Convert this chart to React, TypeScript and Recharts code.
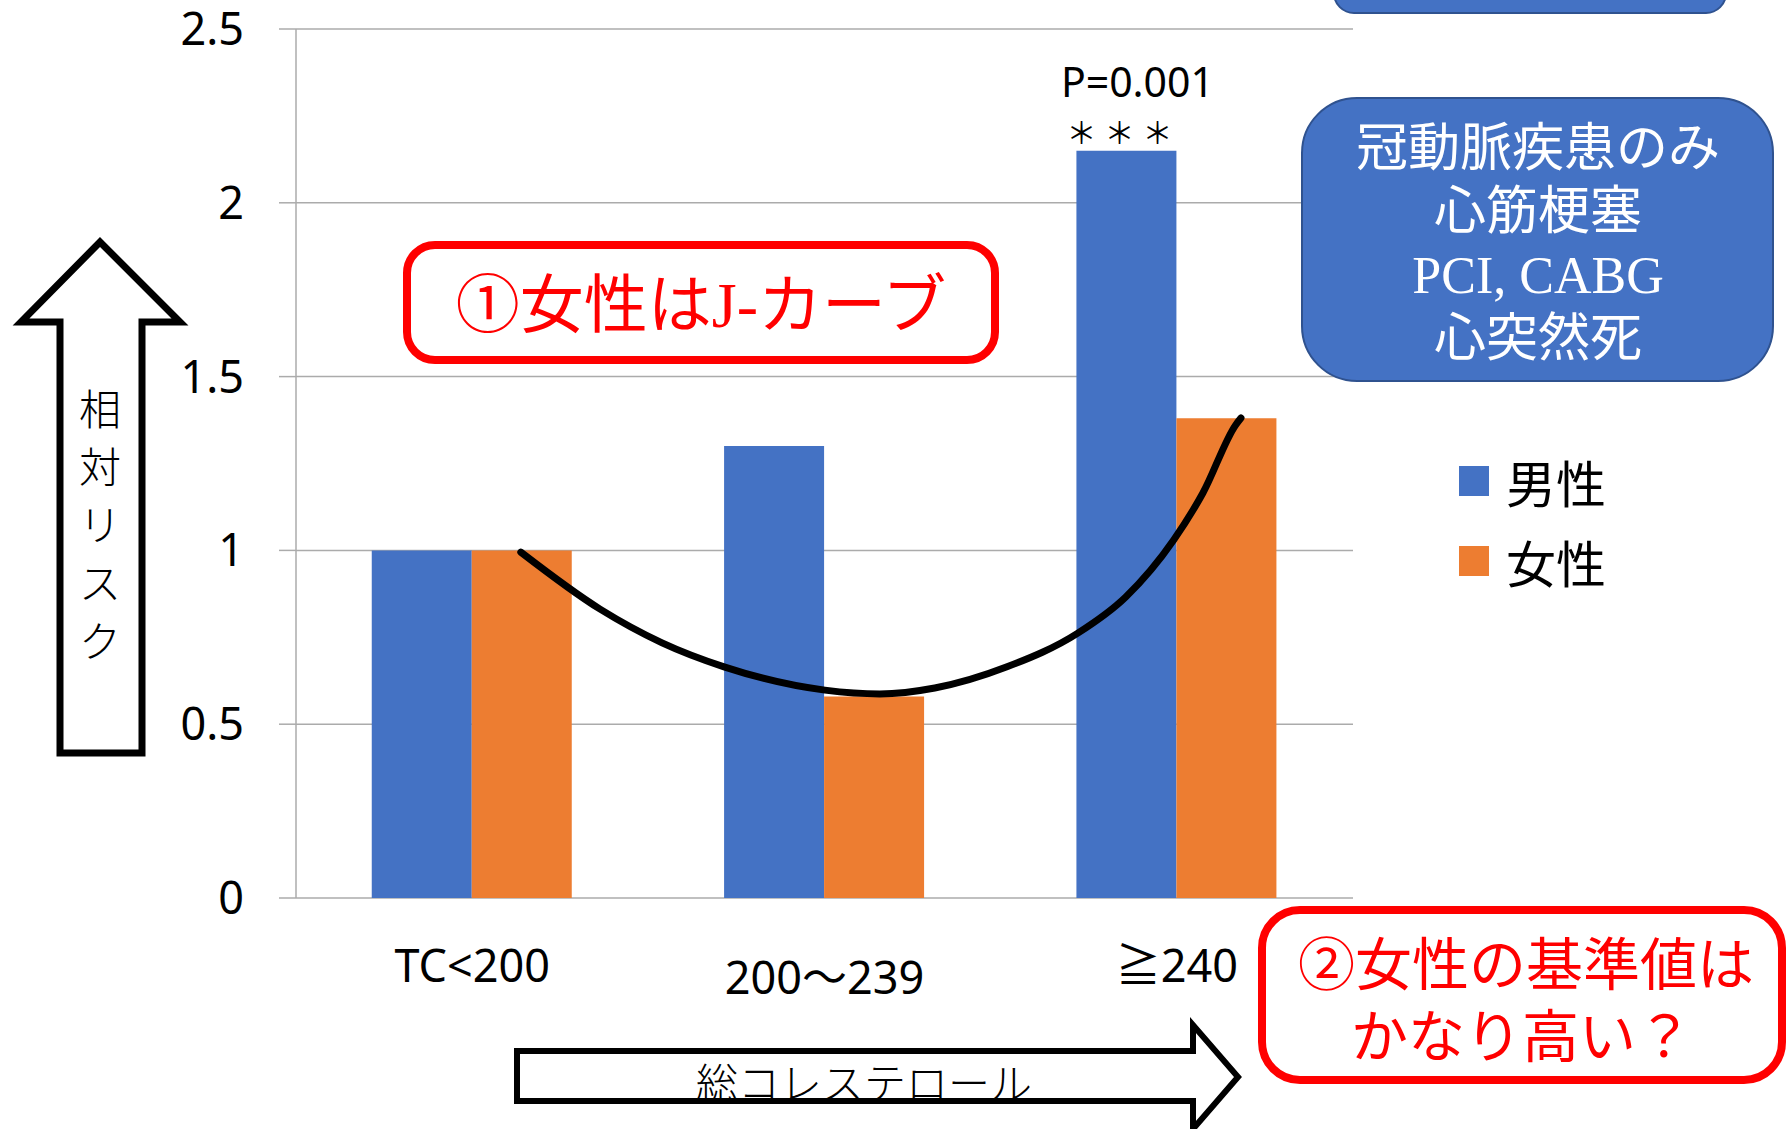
import React from 'react'
import { ComposedChart, Bar, Line, XAxis, YAxis, CartesianGrid, Legend, LabelList } from 'recharts'

const categories = ['TC<200', '200〜239', '≧240']
const maleRisk = [1, 1.3, 2.15]
const femaleRisk = [1, 0.58, 1.38]
const pNotes = ['', '', 'P=0.001']
const sigMarks = ['', '', '＊＊＊']
const yTicks = [0, 0.5, 1, 1.5, 2, 2.5]
const bandEdges = [0, 1, 2, 3]
const legendKeys = ['male', 'female']

// hand drawn J-curve, x in category units (0..3), y in relative risk
const curveX = [0.638, 0.863, 1.039, 1.215, 1.501, 1.657, 1.813, 2.018, 2.219, 2.355, 2.491, 2.574, 2.667, 2.682]
const curveY = [0.995, 0.831, 0.734, 0.665, 0.598, 0.587, 0.604, 0.665, 0.762, 0.866, 1.03, 1.165, 1.361, 1.381]

const boxLines = ['冠動脈疾患のみ', '心筋梗塞', 'PCI, CABG', '心突然死']
const yTitle = ['相', '対', 'リ', 'ス', 'ク']

const rows = categories.map((cat, i) => ({
  cat,
  male: maleRisk[i],
  female: femaleRisk[i],
  note: pNotes[i],
  stars: sigMarks[i]
}))
const curve = curveX.map((x, i) => ({ x, y: curveY[i] }))

const BLUE = '#4472C4'
const ORANGE = '#ED7D31'
const GRID = '#ABABAB'
const RED = '#FF0000'
const sans = "'Noto Sans', 'Noto Sans CJK JP', sans-serif"
const serif = "'Liberation Serif', 'Noto Sans CJK JP', serif"
const cjk = "'Noto Sans CJK JP', sans-serif"

function CatTick({ x, y, payload }: any) {
  const v = String(payload.value)
  // the label with the wave dash sits a bit lower in the original
  const drop = /[\u3000-\u30ff]/.test(v) ? 12 : 0
  return (
    <text x={x} y={y + 84 + drop} textAnchor="middle" fontSize={45} fontFamily={sans} fill="#000">
      {v}
    </text>
  )
}

function NoteLabel(props: any) {
  if (!props.value) return null
  const vb = props.viewBox || props
  return (
    <text x={vb.x + vb.width / 2 + 11} y={vb.y - 70} textAnchor="middle" dominantBaseline="central"
      fontSize={41} fontFamily={sans} fill="#000">
      {props.value}
    </text>
  )
}

function StarLabel(props: any) {
  if (!props.value) return null
  const vb = props.viewBox || props
  return (
    <text x={vb.x + vb.width / 2 - 3} y={vb.y - 20} textAnchor="middle" dominantBaseline="central"
      fontSize={30} letterSpacing={8} fontFamily={cjk} fill="#000">
      {props.value}
    </text>
  )
}

function LegendBox({ payload }: any) {
  const items = legendKeys
    .map((k) => (payload || []).find((p: any) => p.dataKey === k))
    .filter(Boolean)
  return (
    <div>
      {items.map((p: any) => (
        <div key={p.value} style={{ display: 'flex', alignItems: 'center', height: 80 }}>
          <span style={{ width: 30, height: 30, background: p.color, marginRight: 17, flexShrink: 0 }} />
          <span style={{ fontSize: 50, fontFamily: cjk, color: '#000', lineHeight: 1 }}>{p.value}</span>
        </div>
      ))}
    </div>
  )
}

function Overlay() {
  return (
    <svg width={1786} height={1129} style={{ position: 'absolute', left: 0, top: 0, pointerEvents: 'none' }}>
      {/* box cut off at the top */}
      <rect x={1334} y={-60} width={392} height={73} rx={20} fill={BLUE} stroke="#2F528F" strokeWidth={2} />
      {/* study scope box */}
      <rect x={1302} y={98} width={471} height={283} rx={55} fill={BLUE} stroke="#2F528F" strokeWidth={2} />
      {boxLines.map((t, i) => (
        <text key={t} x={1538} y={148 + i * 63.5} textAnchor="middle" dominantBaseline="central"
          fontSize={52} fontFamily={serif} fill="#fff">{t}</text>
      ))}

      {/* red note 1 */}
      <rect x={407} y={245} width={588} height={115} rx={28} fill="#fff" stroke={RED} strokeWidth={8} />
      <text x={701} y={305} textAnchor="middle" dominantBaseline="central" fontSize={64} fontFamily={serif} fill={RED}>
        ①女性はJ-カーブ
      </text>

      {/* red note 2 */}
      <rect x={1262} y={910} width={520} height={170} rx={38} fill="#fff" stroke={RED} strokeWidth={8} />
      <text x={1526} y={965} textAnchor="middle" dominantBaseline="central" fontSize={57} fontFamily={serif} fill={RED}>
        ②女性の基準値は
      </text>
      <text x={1522} y={1037} textAnchor="middle" dominantBaseline="central" fontSize={57} fontFamily={serif} fill={RED}>
        かなり高い？
      </text>

      {/* y arrow */}
      <polygon points="100,242 180,322 142,322 142,753 60,753 60,322 21,322" fill="#fff" stroke="#000" strokeWidth={7} />
      {yTitle.map((c, i) => (
        <text key={c + i} x={100} y={406 + i * 58} textAnchor="middle" dominantBaseline="central"
          fontSize={42} fontFamily={cjk} fontWeight={300} fill="#000">{c}</text>
      ))}

      {/* x arrow */}
      <polygon points="517,1051 1193,1051 1193,1025 1238,1077 1193,1129 1193,1101 517,1101" fill="#fff" stroke="#000" strokeWidth={6} />
      <text x={864} y={1080} textAnchor="middle" dominantBaseline="central" fontSize={42} fontFamily={cjk} fontWeight={300} fill="#000">
        総コレステロール
      </text>
    </svg>
  )
}

export default function App() {
  return (
    <div style={{ position: 'absolute', left: 0, top: 0, width: 1786, height: 1129, background: '#fff', overflow: 'hidden' }}>
      <ComposedChart
        width={1786}
        height={1129}
        data={rows}
        margin={{ top: 29, right: 433, bottom: 229, left: 236 }}
        barCategoryGap="21.5%"
        barGap={0}
      >
        <CartesianGrid vertical={false} stroke={GRID} strokeWidth={1.5} />
        <XAxis
          xAxisId="curve"
          type="number"
          dataKey="x"
          domain={[0, 3]}
          ticks={bandEdges}
          allowDataOverflow
          tick={false}
          axisLine={false}
          tickSize={17}
          tickLine={{ stroke: GRID, strokeWidth: 1.5 }}
          height={1}
        />
        <XAxis
          dataKey="cat"
          height={1}
          interval={0}
          axisLine={false}
          tickLine={false}
          tickSize={0}
          tickMargin={0}
          tick={(p: any) => <CatTick {...p} />}
        />
        <YAxis
          domain={[0, 2.5]}
          ticks={yTicks}
          interval={0}
          width={60}
          tickSize={17}
          tickMargin={35}
          axisLine={{ stroke: GRID, strokeWidth: 1.5 }}
          tickLine={{ stroke: GRID, strokeWidth: 1.5 }}
          tick={{ fill: '#000', fontSize: 45, fontFamily: sans }}
        />
        <Legend
          layout="vertical"
          align="center"
          verticalAlign="middle"
          content={(p: any) => <LegendBox {...p} />}
          wrapperStyle={{ left: 1459, top: 441, width: 220 }}
        />
        <Bar dataKey="male" name="男性" fill={BLUE} isAnimationActive={false}>
          <LabelList dataKey="note" content={(p: any) => <NoteLabel {...p} />} />
          <LabelList dataKey="stars" content={(p: any) => <StarLabel {...p} />} />
        </Bar>
        <Bar dataKey="female" name="女性" fill={ORANGE} isAnimationActive={false} />
        <Line
          xAxisId="curve"
          data={curve}
          dataKey="y"
          type="monotone"
          stroke="#000"
          strokeWidth={7}
          strokeLinecap="round"
          dot={false}
          activeDot={false}
          legendType="none"
          isAnimationActive={false}
        />
      </ComposedChart>
      <Overlay />
    </div>
  )
}
